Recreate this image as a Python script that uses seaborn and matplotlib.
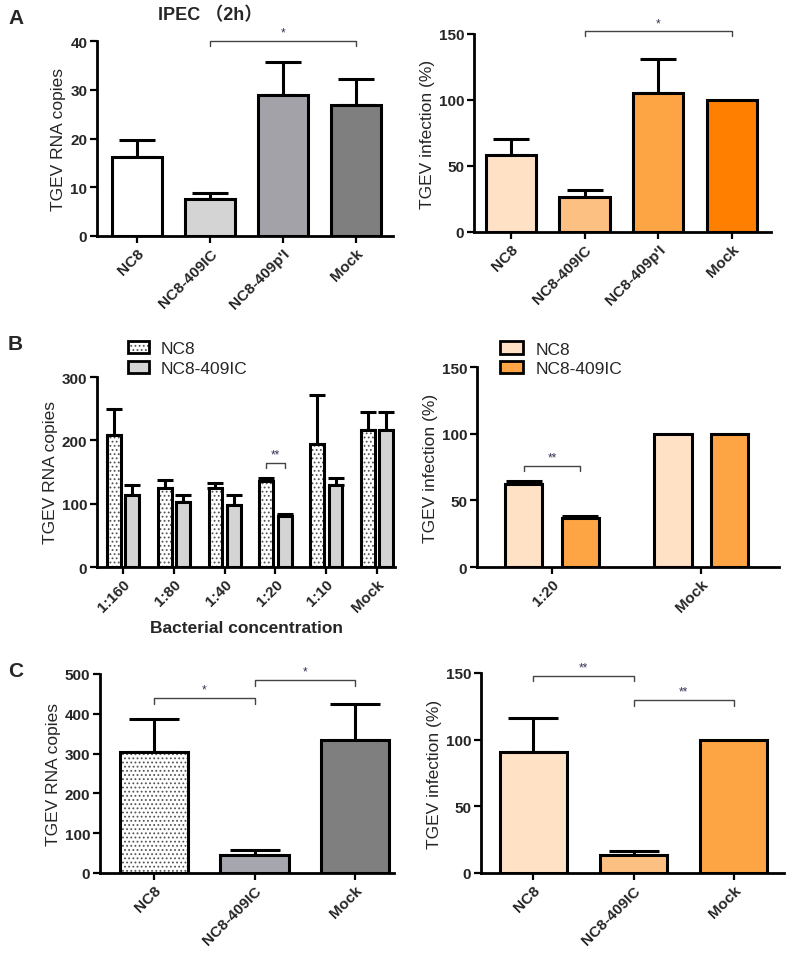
import numpy as np
import pandas as pd
import matplotlib
matplotlib.use("Agg")
import matplotlib.pyplot as plt
import matplotlib.colors as mcolors
import seaborn as sns
from matplotlib.patches import Patch

sns.set_theme(style="ticks")
plt.rcParams['font.family'] = ['Liberation Sans', 'DejaVu Sans']
plt.rcParams['hatch.linewidth'] = 0.8

# ---------------- data ----------------
a_groups = ["NC8", "NC8-409IC", "NC8-409p'I", "Mock"]
a_rna = [16.3, 7.6, 28.9, 26.9]
a_rna_err = [3.4, 1.3, 6.7, 5.3]
a_inf = [58.5, 26.5, 105.5, 100.0]
a_inf_err = [12.0, 5.5, 25.5, 0.0]

b_conc = ["1:160", "1:80", "1:40", "1:20", "1:10", "Mock"]
b_nc8 = [208, 124, 125, 136, 194, 216]
b_nc8_err = [42, 14, 8, 5, 77, 28]
b_ic = [114, 102, 98, 80, 130, 216]
b_ic_err = [16, 12, 16, 3, 11, 28]
b_strains = ["NC8", "NC8-409IC"]
b2_conc = ["1:20", "Mock"]
b2_nc8 = [62.5, 100.0]
b2_nc8_err = [2.0, 0.0]
b2_ic = [36.5, 100.0]
b2_ic_err = [2.0, 0.0]

c_groups = ["NC8", "NC8-409IC", "Mock"]
c_rna = [303, 46, 333]
c_rna_err = [85, 12, 91]
c_inf = [91.0, 13.5, 100.0]
c_inf_err = [25.5, 3.0, 0.0]

# ---------------- colours ----------------
gA = ["#FFFFFF", "#D4D4D4", "#A2A2A8", "#7F7F7F"]
oA = ["#FFE2C6", "#FDC083", "#FDA445", "#FF8000"]
gB = ["#FFFFFF", "#D4D4D4"]
oB = ["#FFE2C6", "#FDA445"]
gC = ["#FFFFFF", "#A6A6AE", "#7F7F7F"]
oC = ["#FFE2C6", "#FDC083", "#FDA445"]

W, H = 788, 954
fig = plt.figure(figsize=(W / 100, H / 100), dpi=100)


def add_ax(x0, x1, ybot, ytop):
    return fig.add_axes([x0 / W, 1 - ybot / H, (x1 - x0) / W, (ybot - ytop) / H])


TICKFS = 11
LABFS = 12.5


def style(ax, ymax, step, ylabel, xlim):
    ax.set_ylim(0, ymax)
    ax.set_yticks(np.arange(0, ymax + 1, step))
    ax.set_xlim(*xlim)
    sns.despine(ax=ax)
    for s in ["left", "bottom"]:
        ax.spines[s].set_linewidth(2)
        ax.spines[s].set_color("black")
    ax.tick_params(axis="both", width=1.6, length=5, color="black", direction="out", pad=2)
    ax.set_ylabel(ylabel, fontsize=LABFS, labelpad=3)
    ax.set_xlabel("")
    for t in ax.get_yticklabels():
        t.set_fontweight("bold")
        t.set_fontsize(TICKFS)
    for t in ax.get_xticklabels():
        t.set_fontweight("bold")
        t.set_fontsize(TICKFS)
        t.set_rotation(45)
        t.set_ha("right")
        t.set_rotation_mode("anchor")


def bars_sorted(ax):
    ps = [p for p in ax.patches if p.get_height() > 0]
    return sorted(ps, key=lambda p: p.get_x())


def dotted(p):
    p.set_hatch("....")
    p._hatch_color = mcolors.to_rgba("#555555")


def add_err(ax, patches, errs, cap):
    for p, e in zip(patches, errs):
        if e <= 0:
            continue
        xc = p.get_x() + p.get_width() / 2
        ax.errorbar([xc], [p.get_height()], yerr=[[0], [e]], fmt="none",
                    ecolor="black", elinewidth=2.2, capsize=cap, capthick=2.2, zorder=1)


def bracket(ax, x1, x2, y, text, tick):
    ax.plot([x1, x1, x2, x2], [y - tick, y, y, y - tick], color="#444444", lw=1.0,
            clip_on=False, zorder=5)
    ax.text((x1 + x2) / 2, y + tick * 0.5, text, ha="center", va="bottom",
            fontsize=8.5, color="#333355", clip_on=False)


def single(ax, groups, vals, errs, colors, width, cap):
    df = pd.DataFrame({"g": groups, "v": vals})
    sns.barplot(data=df, x="g", y="v", hue="g", palette=colors, legend=False,
                order=groups, hue_order=groups, width=width, edgecolor="black",
                linewidth=2.2, errorbar=None, saturation=1, ax=ax, zorder=2)
    ps = bars_sorted(ax)
    add_err(ax, ps, errs, cap)
    return ps


# ---------- A left ----------
ax = add_ax(97, 393, 237, 42)
ps = single(ax, a_groups, a_rna, a_rna_err, gA, 0.68, 13)
style(ax, 40, 10, "TGEV RNA copies", (-0.55, 3.51))
bracket(ax, 1, 3, 40, "*", 1.0)
fig.text(210 / W, 1 - 16 / H, "IPEC （2h）", ha="center", va="center",
         fontsize=13, fontweight="bold", family=["Liberation Sans", "Noto Sans CJK SC"])

# ---------- A right ----------
ax = add_ax(474, 771, 233, 35)
ps = single(ax, a_groups, a_inf, a_inf_err, oA, 0.68, 13)
style(ax, 150, 50, "TGEV infection (%)", (-0.50, 3.53))
bracket(ax, 1, 3, 152, "*", 3.5)

# ---------- B left ----------
ax = add_ax(97, 395, 568, 378)
dfB = pd.DataFrame({
    "conc": b_conc * 2,
    "v": b_nc8 + b_ic,
    "strain": [b_strains[0]] * len(b_conc) + [b_strains[1]] * len(b_conc),
})
sns.barplot(data=dfB, x="conc", y="v", hue="strain", order=b_conc, hue_order=b_strains,
            palette=gB, width=0.72, gap=0.25, edgecolor="black", linewidth=2.2,
            errorbar=None, legend=False, saturation=1, ax=ax, zorder=2)
ps = bars_sorted(ax)
errs = [e for pair in zip(b_nc8_err, b_ic_err) for e in pair]
for i, p in enumerate(ps):
    if i % 2 == 0:
        dotted(p)
add_err(ax, ps, errs, 6)
style(ax, 300, 100, "TGEV RNA copies", (-0.51, 5.35))
x1 = ps[6].get_x() + ps[6].get_width() / 2
x2 = ps[7].get_x() + ps[7].get_width() / 2
bracket(ax, x1, x2, 164, "**", 8)
ax.set_xlabel("Bacterial concentration", fontsize=LABFS, fontweight="bold", labelpad=4)
h = [Patch(facecolor=gB[0], edgecolor="black", linewidth=2),
     Patch(facecolor=gB[1], edgecolor="black", linewidth=2)]
dotted(h[0])
ax.legend(h, b_strains, loc="lower left", bbox_to_anchor=(0.08, 0.97), frameon=False,
          fontsize=12.5, handlelength=1.2, handleheight=0.7, labelspacing=0.25,
          borderaxespad=0, handletextpad=0.7)

# ---------- B right ----------
ax = add_ax(477, 779, 568, 368)
dfB2 = pd.DataFrame({
    "conc": b2_conc * 2,
    "v": b2_nc8 + b2_ic,
    "strain": [b_strains[0]] * len(b2_conc) + [b_strains[1]] * len(b2_conc),
})
sns.barplot(data=dfB2, x="conc", y="v", hue="strain", order=b2_conc, hue_order=b_strains,
            palette=oB, width=0.76, gap=0.34, edgecolor="black", linewidth=2.2,
            errorbar=None, legend=False, saturation=1, ax=ax, zorder=2)
ps = bars_sorted(ax)
errs = [e for pair in zip(b2_nc8_err, b2_ic_err) for e in pair]
add_err(ax, ps, errs, 13)
style(ax, 150, 50, "TGEV infection (%)", (-0.503, 1.52))
x1 = ps[0].get_x() + ps[0].get_width() / 2
x2 = ps[1].get_x() + ps[1].get_width() / 2
bracket(ax, x1, x2, 76, "**", 4)
h = [Patch(facecolor=oB[0], edgecolor="black", linewidth=2),
     Patch(facecolor=oB[1], edgecolor="black", linewidth=2)]
ax.legend(h, b_strains, loc="lower left", bbox_to_anchor=(0.052, 0.92), frameon=False,
          fontsize=12.5, handlelength=1.35, handleheight=0.7, labelspacing=0.25,
          borderaxespad=0, handletextpad=0.7)

# ---------- C left ----------
ax = add_ax(100, 394, 874, 675)
ps = single(ax, c_groups, c_rna, c_rna_err, gC, 0.68, 18)
dotted(ps[0])
style(ax, 500, 100, "TGEV RNA copies", (-0.54, 2.39))
bracket(ax, 0, 1, 439, "*", 14)
bracket(ax, 1, 2, 485, "*", 14)

# ---------- C right ----------
ax = add_ax(481, 784, 874, 674)
ps = single(ax, c_groups, c_inf, c_inf_err, oC, 0.67, 18)
style(ax, 150, 50, "TGEV infection (%)", (-0.52, 2.50))
bracket(ax, 0, 1, 148, "**", 4)
bracket(ax, 1, 2, 129.5, "**", 4)

# ---------- panel letters ----------
for lab, y in [("A", 18), ("B", 345), ("C", 672)]:
    fig.text(8 / W, 1 - y / H, lab, fontsize=15, fontweight="bold", va="center", ha="left")

fig.savefig("out.png", dpi=100)
